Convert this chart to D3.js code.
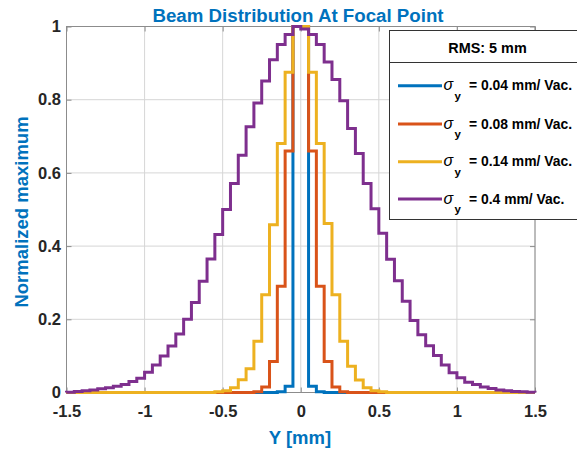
<!DOCTYPE html>
<html><head><meta charset="utf-8">
<script src="https://cdn.jsdelivr.net/npm/d3@7"></script>
<style>
body{margin:0;background:#fff}
svg{display:block}
text{font-family:"Liberation Sans",Arial,Helvetica,sans-serif}
</style>
</head><body>
<svg id="chart" width="577" height="449"></svg>
<script>
// ---------- data ----------
const binEdges = [-1.5,-1.45,-1.4,-1.35,-1.3,-1.25,-1.2,-1.15,-1.1,-1.05,
  -1,-0.95,-0.9,-0.85,-0.8,-0.75,-0.7,-0.65,-0.6,-0.55,
  -0.5,-0.45,-0.4,-0.35,-0.3,-0.25,-0.2,-0.15,-0.1,-0.05,
  0,0.05,0.1,0.15,0.2,0.25,0.3,0.35,0.4,0.45,
  0.5,0.55,0.6,0.65,0.7,0.75,0.8,0.85,0.9,0.95,
  1,1.05,1.1,1.15,1.2,1.25,1.3,1.35,1.4,1.45,1.5];

const xTicks = [-1.5,-1,-0.5,0,0.5,1,1.5];
const yTicks = [0,0.2,0.4,0.6,0.8,1];

const seriesLabels = ["0.04","0.08","0.14","0.4"];
const seriesColors = ["#0072BD","#D95319","#EDB120","#7E2F8E"];

const sigma004 = [0,0,0,0,0,0,0,0,0,0, 0,0,0,0,0,0,0,0,0,0, 0,0,0,0,0,0,0,0.002,0.017,1,
                  1,0.017,0.002,0,0,0,0,0,0,0, 0,0,0,0,0,0,0,0,0,0, 0,0,0,0,0,0,0,0,0,0];
const sigma008 = [0,0,0,0,0,0,0,0,0,0, 0,0,0,0,0,0,0,0,0,0, 0,0,0,0,0.002,0.015,0.085,0.29,0.66,1,
                  1,0.66,0.29,0.085,0.015,0.002,0,0,0,0, 0,0,0,0,0,0,0,0,0,0, 0,0,0,0,0,0,0,0,0,0];
const sigma014 = [0,0,0,0,0,0,0,0,0,0, 0,0,0,0,0,0,0,0,0,0.002, 0.005,0.013,0.035,0.065,0.14,0.267,0.458,0.68,0.875,1,
                  1,0.875,0.68,0.462,0.267,0.14,0.072,0.034,0.013,0.005, 0.002,0,0,0,0,0,0,0,0,0, 0,0,0,0,0,0,0,0,0,0];
const sigma040 = [0.001,0.003,0.005,0.007,0.010,0.013,0.017,0.022,0.030,0.039,
                  0.055,0.075,0.100,0.127,0.160,0.200,0.246,0.304,0.365,0.432,
                  0.500,0.571,0.648,0.726,0.791,0.851,0.909,0.951,0.978,1.000,
                  0.993,0.978,0.951,0.903,0.855,0.797,0.721,0.653,0.571,0.502,
                  0.435,0.364,0.305,0.249,0.197,0.158,0.128,0.101,0.075,0.054,
                  0.040,0.028,0.022,0.015,0.011,0.007,0.005,0.003,0.002,0.001];
const seriesValues = [sigma004, sigma008, sigma014, sigma040];

const titleText = "Beam Distribution At Focal Point";
const xLabelText = "Y [mm]";
const yLabelText = "Normalized maximum";
const legendTitle = "RMS: 5 mm";

// ---------- layout ----------
const svg = d3.select("#chart");
const L = 66.5, R = 535, T = 26.5, B = 392.5;
const x = d3.scaleLinear().domain([-1.5,1.5]).range([L,R]);
const y = d3.scaleLinear().domain([0,1]).range([B,T]);
const blue = "#0072BD", axisGray = "#8c8c8c", tickText = "#262626";

// grid
const grid = svg.append("g");
grid.selectAll("line.gx").data(xTicks).join("line")
  .attr("x1", d=>x(d)).attr("x2", d=>x(d)).attr("y1", T).attr("y2", B)
  .attr("stroke", "#d6d6d6").attr("stroke-width", 1);
grid.selectAll("line.gy").data(yTicks).join("line")
  .attr("x1", L).attr("x2", R).attr("y1", d=>y(d)).attr("y2", d=>y(d))
  .attr("stroke", "#d6d6d6").attr("stroke-width", 1);

// axes (ticks inward)
const fmt = d => String(d);
const ax = svg.append("g").attr("transform", `translate(0,${B})`)
  .call(d3.axisBottom(x).tickValues(xTicks).tickSize(-5).tickPadding(12.5).tickFormat(fmt));
const ay = svg.append("g").attr("transform", `translate(${L},0)`)
  .call(d3.axisLeft(y).tickValues(yTicks).tickSize(-5).tickPadding(5.5).tickFormat(fmt));
const axT = svg.append("g").attr("transform", `translate(0,${T})`)
  .call(d3.axisTop(x).tickValues(xTicks).tickSize(-5).tickFormat(""));
const ayR = svg.append("g").attr("transform", `translate(${R},0)`)
  .call(d3.axisRight(y).tickValues(yTicks).tickSize(-5).tickFormat(""));
[ax, ay, axT, ayR].forEach(g => {
  g.select(".domain").remove();
  g.selectAll(".tick line").attr("stroke", axisGray);
  g.selectAll(".tick text").attr("fill", tickText)
    .style("font-size", "16.5px").style("font-weight", "bold")
    .style("font-family", '"Liberation Sans",Arial,sans-serif');
});

// box
svg.append("rect").attr("x", L).attr("y", T).attr("width", R-L).attr("height", B-T)
  .attr("fill", "none").attr("stroke", axisGray).attr("stroke-width", 1);

// series (stairs)
function stairsPath(vals){
  const p = d3.path();
  p.moveTo(x(binEdges[0]), y(0));
  vals.forEach((v,i) => {
    p.lineTo(x(binEdges[i]), y(v));
    p.lineTo(x(binEdges[i+1]), y(v));
  });
  p.lineTo(x(binEdges[binEdges.length-1]), y(0));
  return p.toString();
}
svg.append("g").selectAll("path").data(seriesValues).join("path")
  .attr("d", d => stairsPath(d))
  .attr("fill", "none")
  .attr("stroke", (d,i) => seriesColors[i])
  .attr("stroke-width", 3)
  .attr("stroke-linejoin", "miter");

// title & labels
svg.append("text").attr("x", 298).attr("y", 21.5).attr("text-anchor", "middle")
  .attr("fill", blue).style("font-size", "18.7px").style("font-weight", "bold").text(titleText);
svg.append("text").attr("x", 300).attr("y", 444).attr("text-anchor", "middle")
  .attr("fill", blue).style("font-size", "18.5px").style("font-weight", "bold").text(xLabelText);
svg.append("text").attr("transform", "translate(27.5,212) rotate(-90)").attr("text-anchor", "middle")
  .attr("fill", blue).style("font-size", "18.5px").style("font-weight", "bold").text(yLabelText);

// legend
const lg = svg.append("g");
const lgL = 389.5, lgT = 30.5, lgW = 200, lgH = 189;
lg.append("rect").attr("x", lgL).attr("y", lgT).attr("width", lgW).attr("height", lgH)
  .attr("fill", "#fff").attr("stroke", "#333").attr("stroke-width", 1);
lg.append("line").attr("x1", lgL).attr("x2", lgL+lgW).attr("y1", 62.5).attr("y2", 62.5)
  .attr("stroke", "#333").attr("stroke-width", 1);
lg.append("text").attr("x", 487.5).attr("y", 52.5).attr("text-anchor", "middle")
  .attr("fill", "#000").style("font-size", "14.4px").style("font-weight", "bold").text(legendTitle);

const rowY = [85.7, 124, 161.7, 199];
seriesLabels.forEach((lab, i) => {
  const cy = rowY[i];
  lg.append("line").attr("x1", 398).attr("x2", 442).attr("y1", cy).attr("y2", cy)
    .attr("stroke", seriesColors[i]).attr("stroke-width", 3);
  lg.append("text").attr("x", 443.5).attr("y", cy+4.5).attr("fill", "#000")
    .style("font-size", "16px").style("font-style", "italic").text("σ");
  lg.append("text").attr("x", 454.5).attr("y", cy+14).attr("fill", "#000")
    .style("font-size", "11.5px").style("font-weight", "bold").text("y");
  lg.append("text").attr("x", 469).attr("y", cy+4.5).attr("fill", "#000")
    .style("font-size", "13.9px").style("font-weight", "bold").text(`= ${lab} mm/ Vac.`);
});
</script>
</body></html>
